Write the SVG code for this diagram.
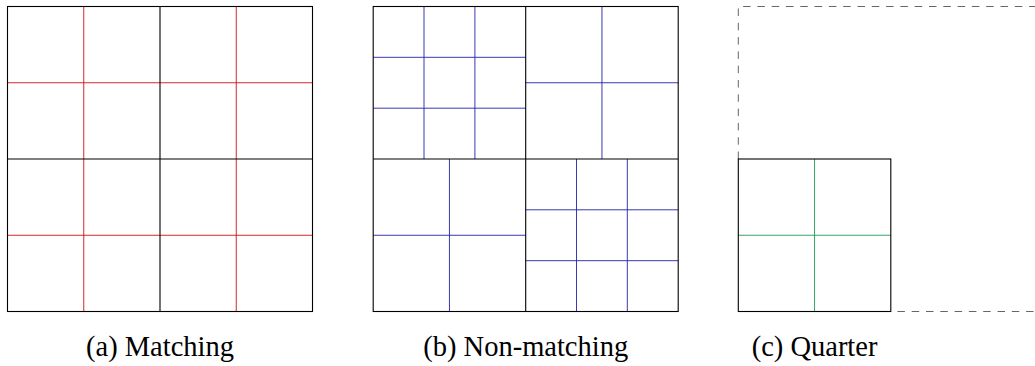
<svg xmlns="http://www.w3.org/2000/svg" width="1035" height="366" viewBox="0 0 1035 366">
<style>
.bk{fill:none;stroke:#000;stroke-width:1.1}
.rd{stroke:#cc1111;stroke-width:0.9;fill:none}
.bl{stroke:#2222aa;stroke-width:0.9;fill:none}
.gr{stroke:#1f9a55;stroke-width:0.9;fill:none}
.ds{fill:none;stroke:#555;stroke-width:0.9;stroke-dasharray:7.5 6.8}
.lb{font-family:'Liberation Serif','Times New Roman',serif;font-size:28.5px;fill:#000;text-anchor:middle}
</style>
<rect width="1035" height="366" fill="#fff"/>
<g id="panel-a">
<path class="rd" d="M83.75 6.5V311.5M236.25 6.5V311.5M7.5 82.75H312.5M7.5 235.25H312.5"/>
<path class="bk" d="M160 6.5V311.5M7.5 159H312.5"/>
<rect class="bk" x="7.5" y="6.5" width="305" height="305"/>
<text class="lb" x="160" y="356">(a) Matching</text>
</g>
<g id="panel-b">
<path class="bl" d="M424 6.5V159M474.9 6.5V159M373.2 57.3H525.7M373.2 108.2H525.7"/>
<path class="bl" d="M601.95 6.5V159M525.7 82.75H678.2"/>
<path class="bl" d="M449.45 159V311.5M373.2 235.25H525.7"/>
<path class="bl" d="M576.5 159V311.5M627.3 159V311.5M525.7 209.8H678.2M525.7 260.7H678.2"/>
<path class="bk" d="M525.7 6.5V311.5M373.2 159H678.2"/>
<rect class="bk" x="373.2" y="6.5" width="305" height="305"/>
<text class="lb" x="525.7" y="356">(b) Non-matching</text>
</g>
<g id="panel-c">
<path class="ds" d="M738.3 159V6.5H1043.3V311.5H890.8"/>
<path class="gr" d="M814.55 159V311.5M738.3 235.25H890.8"/>
<rect class="bk" x="738.3" y="159" width="152.5" height="152.5"/>
<text class="lb" x="814.55" y="356">(c) Quarter</text>
</g>
</svg>
